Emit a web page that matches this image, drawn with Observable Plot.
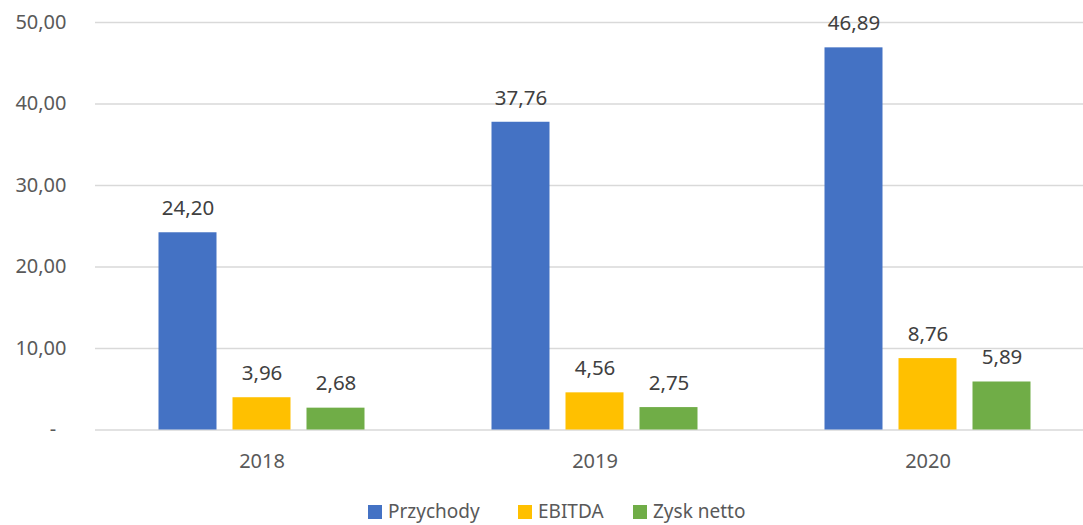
<!DOCTYPE html>
<html>
<head>
<meta charset="utf-8">
<script src="https://cdn.jsdelivr.net/npm/d3@7"></script>
<script src="https://cdn.jsdelivr.net/npm/@observablehq/plot@0.6"></script>
<style>
  html, body { margin: 0; padding: 0; background: #fff; }
  #wrap { position: relative; width: 1083px; height: 525px; overflow: hidden; font-family: "Noto Sans", sans-serif; }
  #chart svg { max-width: none !important; }
  #legend { position: absolute; left: 0; top: 502px; height: 20px; width: 1083px; font-size: 19px; line-height: 19px; color: #595959; }
  .item { position: absolute; top: 0; height: 19px; display: flex; align-items: center; white-space: nowrap; }
  .sw { width: 14px; height: 14px; margin-right: 6px; }
</style>
</head>
<body>
<div id="wrap"><div id="chart"></div><div id="legend"></div></div>
<script>
const years = ["2018", "2019", "2020"];
const series = ["Przychody", "EBITDA", "Zysk netto"];
const colors = ["#4472C4", "#FFC000", "#70AD47"];
const przychody = [24.20, 37.76, 46.89];
const ebitda = [3.96, 4.56, 8.76];
const zyskNetto = [2.68, 2.75, 5.89];
const yTicks = [0, 10, 20, 30, 40, 50];

const values = [przychody, ebitda, zyskNetto];
const data = [];
years.forEach((yr, i) => series.forEach((s, j) => data.push({year: yr, series: s, value: values[j][i]})));

const pl = d3.formatLocale({decimal: ",", thousands: " ", grouping: [3], currency: ["", " zł"]});
const fmt = pl.format(".2f");

const chart = Plot.plot({
  width: 1094,
  height: 495,
  marginLeft: 94.5,
  marginRight: 0,
  marginTop: 22,
  marginBottom: 65.5,
  style: {fontFamily: "Noto Sans, sans-serif", fontSize: "20px", color: "#595959", background: "#fff", maxWidth: "none"},
  fx: {domain: years, padding: 0, label: null},
  x: {domain: series, paddingInner: 0.216, paddingOuter: 0.858, axis: null},
  y: {domain: [0, 50], label: null},
  color: {domain: series, range: colors},
  marks: [
    Plot.gridY(yTicks, {stroke: "#d9d9d9", strokeOpacity: 1, strokeWidth: 1.3}),
    Plot.axisY(yTicks, {tickSize: 0, tickPadding: 29, label: null, tickFormat: d => d === 0 ? "-\u00a0\u00a0" : fmt(d)}),
    Plot.barY(data, {fx: "year", x: "series", y: "value", fill: "series"}),
    Plot.text(data, {fx: "year", x: "series", y: "value", text: d => fmt(d.value), lineAnchor: "bottom", dy: -17.7, fill: "#404040", fontSize: 20.5}),
    Plot.axisFx({anchor: "bottom", tickSize: 0, tickPadding: 24, label: null})
  ]
});
document.getElementById("chart").appendChild(chart);

const legendX = [368, 518, 633];
const legend = document.getElementById("legend");
series.forEach((s, i) => {
  const it = document.createElement("div");
  it.className = "item";
  it.style.left = legendX[i] + "px";
  it.innerHTML = `<span class="sw" style="background:${colors[i]}"></span><span>${s}</span>`;
  legend.appendChild(it);
});
</script>
</body>
</html>
